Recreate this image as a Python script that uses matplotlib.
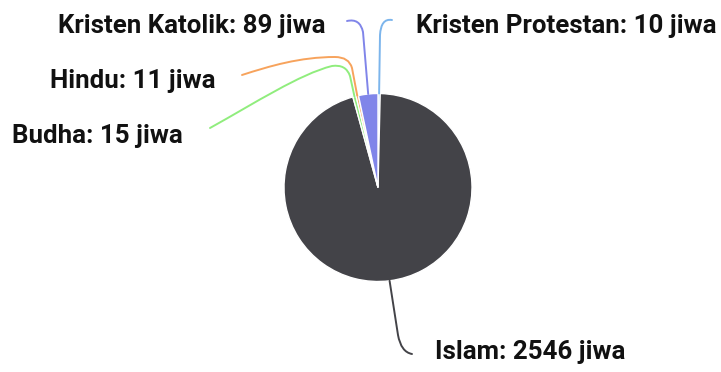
import numpy as np
import matplotlib.pyplot as plt
from matplotlib.path import Path
from matplotlib.patches import PathPatch

plt.rcParams["font.family"] = ["Roboto", "DejaVu Sans"]

# data in the order the slices are drawn (clockwise from the top)
agama = ["Kristen Protestan", "Islam", "Budha", "Hindu", "Kristen Katolik"]
jiwa = [10, 2546, 15, 11, 89]
warna = ["#7cb5ec", "#434348", "#90ed7d", "#f7a35c", "#8085e9"]

W, H = 721, 372
fig = plt.figure(figsize=(W / 100, H / 100), dpi=100)
ax = fig.add_axes([0, 0, 1, 1])

def Y(y):
    # pixel row -> data y
    return H - y

cx, cy, r = 378, 187.5, 94
wedges, _ = ax.pie(jiwa, colors=warna, startangle=90, counterclock=False,
                   center=(cx, Y(cy)), radius=r, frame=True,
                   wedgeprops=dict(edgecolor="white", linewidth=1))
ax.set_xlim(0, W)
ax.set_ylim(0, H)
ax.axis("off")

# label layout: (text x, baseline y, ha, path points after the start)
layout = {
    "Kristen Protestan": (416, 33, "left",
                          [("L", (380, 35)), ("Q", (381, 18), (392, 20))]),
    "Islam": (435, 359, "left",
              [("L", (398, 335)), ("Q", (401, 352), (412, 354))]),
    "Budha": (183, 143, "right",
              [("L", (350, 76)), ("Q", (346, 64), (332, 66)),
               ("C", (300, 74), (255, 103), (210, 128))]),
    "Hindu": (216, 88, "right",
              [("L", (352, 68)), ("Q", (349, 57), (335, 57)),
               ("C", (300, 57), (270, 66), (242, 75))]),
    "Kristen Katolik": (325, 33, "right",
                        [("L", (363, 32)), ("Q", (360, 18), (347, 21))]),
}

for w, nama, n, c in zip(wedges, agama, jiwa, warna):
    mid = np.deg2rad((w.theta1 + w.theta2) / 2)
    sx = cx + r * np.cos(mid)
    sy = Y(cy) + r * np.sin(mid)
    tx, ty, ha, segs = layout[nama]
    verts = [(sx, sy)]
    codes = [Path.MOVETO]
    for s in segs:
        if s[0] == "L":
            verts.append((s[1][0], Y(s[1][1])))
            codes.append(Path.LINETO)
        elif s[0] == "Q":
            verts += [(p[0], Y(p[1])) for p in s[1:]]
            codes += [Path.CURVE3, Path.CURVE3]
        else:
            verts += [(p[0], Y(p[1])) for p in s[1:]]
            codes += [Path.CURVE4] * 3
    ax.add_patch(PathPatch(Path(verts, codes), fill=False, edgecolor=c,
                           linewidth=1.4, capstyle="round"))
    ax.text(tx, Y(ty), "{}: {} jiwa".format(nama, n), ha=ha, va="baseline",
            fontsize=18.6, fontweight="bold", color="#111111")

fig.savefig("out.png", dpi=100, facecolor="white")
